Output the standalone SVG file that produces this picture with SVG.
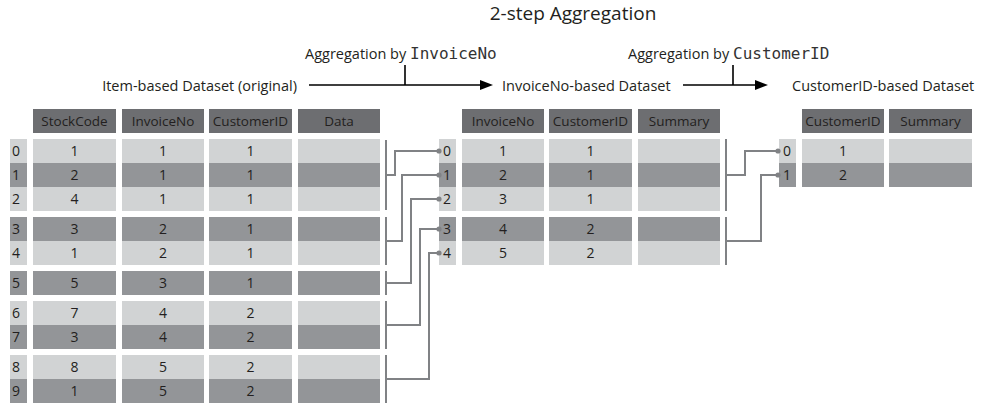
<svg xmlns="http://www.w3.org/2000/svg" width="989" height="415" viewBox="0 0 989 415">
<style>
text{font-family:"Open Sans","Noto Sans","Liberation Sans",sans-serif;fill:#231f20}
.t{font-size:13.5px;text-anchor:middle}
.n{font-size:14px;text-anchor:middle}
.i{font-size:14px}
.lbl{font-size:14.5px}
.mono{font-family:"DejaVu Sans Mono","Liberation Mono",monospace;font-size:16px;fill:#333}
.h{fill:#6d6e71}
.l{fill:#d1d3d4}
.d{fill:#939598}
.cn{fill:none;stroke:#808285;stroke-width:2}
.ar{stroke:#000;stroke-width:1.6;fill:none}
.dot{fill:#808285}
</style>
<rect width="989" height="415" fill="#fff"/>
<g id="title">
<text x="573" y="20" style="font-size:19px;text-anchor:middle">2-step Aggregation</text>
</g>
<g id="flow">
<text class="lbl" x="297" y="91" text-anchor="end">Item-based Dataset (original)</text>
<text class="lbl" x="305" y="59">Aggregation by <tspan class="mono">InvoiceNo</tspan></text>
<text class="lbl" x="502" y="91">InvoiceNo-based Dataset</text>
<text class="lbl" x="628" y="59">Aggregation by <tspan class="mono">CustomerID</tspan></text>
<text class="lbl" x="792" y="91">CustomerID-based Dataset</text>
<path class="ar" d="M309 85H481M405 65V85M683 85H756M733 65V85"/>
<polygon points="480,80 493,85 480,90"/>
<polygon points="755,80 768,85 755,90"/>
</g>
<g id="item-table">
<rect class="h" x="33" y="109" width="83" height="24"/>
<rect class="h" x="122" y="109" width="82" height="24"/>
<rect class="h" x="209" y="109" width="83" height="24"/>
<rect class="h" x="298" y="109" width="82" height="24"/>
<text class="t" x="74.5" y="126">StockCode</text>
<text class="t" x="163" y="126">InvoiceNo</text>
<text class="t" x="250.5" y="126">CustomerID</text>
<text class="t" x="339" y="126">Data</text>
<g class="l"><rect x="10" y="139" width="17" height="24"/><rect x="33" y="139" width="83" height="24"/><rect x="122" y="139" width="82" height="24"/><rect x="209" y="139" width="83" height="24"/><rect x="298" y="139" width="82" height="24"/></g>
<g class="d"><rect x="10" y="163" width="17" height="24"/><rect x="33" y="163" width="83" height="24"/><rect x="122" y="163" width="82" height="24"/><rect x="209" y="163" width="83" height="24"/><rect x="298" y="163" width="82" height="24"/></g>
<g class="l"><rect x="10" y="187" width="17" height="24"/><rect x="33" y="187" width="83" height="24"/><rect x="122" y="187" width="82" height="24"/><rect x="209" y="187" width="83" height="24"/><rect x="298" y="187" width="82" height="24"/></g>
<g class="d"><rect x="10" y="217" width="17" height="24"/><rect x="33" y="217" width="83" height="24"/><rect x="122" y="217" width="82" height="24"/><rect x="209" y="217" width="83" height="24"/><rect x="298" y="217" width="82" height="24"/></g>
<g class="l"><rect x="10" y="241" width="17" height="24"/><rect x="33" y="241" width="83" height="24"/><rect x="122" y="241" width="82" height="24"/><rect x="209" y="241" width="83" height="24"/><rect x="298" y="241" width="82" height="24"/></g>
<g class="d"><rect x="10" y="271" width="17" height="24"/><rect x="33" y="271" width="83" height="24"/><rect x="122" y="271" width="82" height="24"/><rect x="209" y="271" width="83" height="24"/><rect x="298" y="271" width="82" height="24"/></g>
<g class="l"><rect x="10" y="301" width="17" height="24"/><rect x="33" y="301" width="83" height="24"/><rect x="122" y="301" width="82" height="24"/><rect x="209" y="301" width="83" height="24"/><rect x="298" y="301" width="82" height="24"/></g>
<g class="d"><rect x="10" y="325" width="17" height="24"/><rect x="33" y="325" width="83" height="24"/><rect x="122" y="325" width="82" height="24"/><rect x="209" y="325" width="83" height="24"/><rect x="298" y="325" width="82" height="24"/></g>
<g class="l"><rect x="10" y="355" width="17" height="24"/><rect x="33" y="355" width="83" height="24"/><rect x="122" y="355" width="82" height="24"/><rect x="209" y="355" width="83" height="24"/><rect x="298" y="355" width="82" height="24"/></g>
<g class="d"><rect x="10" y="379" width="17" height="24"/><rect x="33" y="379" width="83" height="24"/><rect x="122" y="379" width="82" height="24"/><rect x="209" y="379" width="83" height="24"/><rect x="298" y="379" width="82" height="24"/></g>
<text class="i" x="12" y="156">0</text><text class="n" x="74.5" y="156">1</text><text class="n" x="163" y="156">1</text><text class="n" x="250.5" y="156">1</text>
<text class="i" x="12" y="180">1</text><text class="n" x="74.5" y="180">2</text><text class="n" x="163" y="180">1</text><text class="n" x="250.5" y="180">1</text>
<text class="i" x="12" y="204">2</text><text class="n" x="74.5" y="204">4</text><text class="n" x="163" y="204">1</text><text class="n" x="250.5" y="204">1</text>
<text class="i" x="12" y="234">3</text><text class="n" x="74.5" y="234">3</text><text class="n" x="163" y="234">2</text><text class="n" x="250.5" y="234">1</text>
<text class="i" x="12" y="258">4</text><text class="n" x="74.5" y="258">1</text><text class="n" x="163" y="258">2</text><text class="n" x="250.5" y="258">1</text>
<text class="i" x="12" y="288">5</text><text class="n" x="74.5" y="288">5</text><text class="n" x="163" y="288">3</text><text class="n" x="250.5" y="288">1</text>
<text class="i" x="12" y="318">6</text><text class="n" x="74.5" y="318">7</text><text class="n" x="163" y="318">4</text><text class="n" x="250.5" y="318">2</text>
<text class="i" x="12" y="342">7</text><text class="n" x="74.5" y="342">3</text><text class="n" x="163" y="342">4</text><text class="n" x="250.5" y="342">2</text>
<text class="i" x="12" y="372">8</text><text class="n" x="74.5" y="372">8</text><text class="n" x="163" y="372">5</text><text class="n" x="250.5" y="372">2</text>
<text class="i" x="12" y="396">9</text><text class="n" x="74.5" y="396">1</text><text class="n" x="163" y="396">5</text><text class="n" x="250.5" y="396">2</text>
</g>
<g id="invoice-table">
<rect class="h" x="462" y="109" width="82" height="24"/>
<rect class="h" x="549" y="109" width="83" height="24"/>
<rect class="h" x="638" y="109" width="82" height="24"/>
<text class="t" x="503" y="126">InvoiceNo</text>
<text class="t" x="590.5" y="126">CustomerID</text>
<text class="t" x="679" y="126">Summary</text>
<g class="l"><rect x="439" y="139" width="17" height="24"/><rect x="462" y="139" width="82" height="24"/><rect x="549" y="139" width="83" height="24"/><rect x="638" y="139" width="82" height="24"/></g>
<g class="d"><rect x="439" y="163" width="17" height="24"/><rect x="462" y="163" width="82" height="24"/><rect x="549" y="163" width="83" height="24"/><rect x="638" y="163" width="82" height="24"/></g>
<g class="l"><rect x="439" y="187" width="17" height="24"/><rect x="462" y="187" width="82" height="24"/><rect x="549" y="187" width="83" height="24"/><rect x="638" y="187" width="82" height="24"/></g>
<g class="d"><rect x="439" y="217" width="17" height="24"/><rect x="462" y="217" width="82" height="24"/><rect x="549" y="217" width="83" height="24"/><rect x="638" y="217" width="82" height="24"/></g>
<g class="l"><rect x="439" y="241" width="17" height="24"/><rect x="462" y="241" width="82" height="24"/><rect x="549" y="241" width="83" height="24"/><rect x="638" y="241" width="82" height="24"/></g>
<text class="i" x="443" y="156">0</text><text class="n" x="503" y="156">1</text><text class="n" x="590.5" y="156">1</text>
<text class="i" x="443" y="180">1</text><text class="n" x="503" y="180">2</text><text class="n" x="590.5" y="180">1</text>
<text class="i" x="443" y="204">2</text><text class="n" x="503" y="204">3</text><text class="n" x="590.5" y="204">1</text>
<text class="i" x="443" y="234">3</text><text class="n" x="503" y="234">4</text><text class="n" x="590.5" y="234">2</text>
<text class="i" x="443" y="258">4</text><text class="n" x="503" y="258">5</text><text class="n" x="590.5" y="258">2</text>
</g>
<g id="customer-table">
<rect class="h" x="802" y="109" width="82" height="24"/>
<rect class="h" x="889" y="109" width="83" height="24"/>
<text class="t" x="843" y="126">CustomerID</text>
<text class="t" x="930.5" y="126">Summary</text>
<g class="l"><rect x="779" y="139" width="17" height="24"/><rect x="802" y="139" width="82" height="24"/><rect x="889" y="139" width="83" height="24"/></g>
<g class="d"><rect x="779" y="163" width="17" height="24"/><rect x="802" y="163" width="82" height="24"/><rect x="889" y="163" width="83" height="24"/></g>
<text class="i" x="783" y="156">0</text><text class="n" x="843" y="156">1</text>
<text class="i" x="783" y="180">1</text><text class="n" x="843" y="180">2</text>
</g>
<g id="connectors">
<path class="cn" d="M386 140V210M386 175H395V151H438"/>
<path class="cn" d="M386 217V265M386 241H402V175H438"/>
<path class="cn" d="M386 271V295M386 283H411V199H438"/>
<path class="cn" d="M386 301V349M386 325H420V229H438"/>
<path class="cn" d="M386 355V403M386 379H429V253H438"/>
<path class="cn" d="M726 139V211M726 175H745V151H778"/>
<path class="cn" d="M726 217V265M726 241H761V175H778"/>
<circle class="dot" cx="439" cy="151" r="2.6"/>
<circle class="dot" cx="439" cy="175" r="2.6"/>
<circle class="dot" cx="439" cy="199" r="2.6"/>
<circle class="dot" cx="439" cy="229" r="2.6"/>
<circle class="dot" cx="439" cy="253" r="2.6"/>
<circle class="dot" cx="778" cy="151" r="2.6"/>
<circle class="dot" cx="778" cy="175" r="2.6"/>
</g>
</svg>
